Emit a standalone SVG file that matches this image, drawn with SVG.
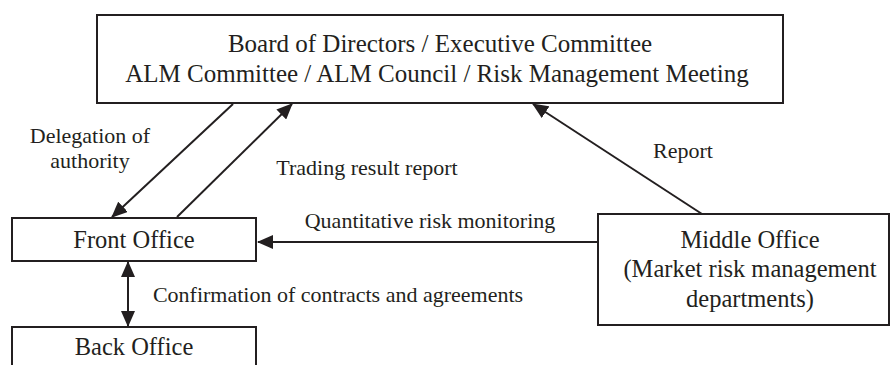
<svg xmlns="http://www.w3.org/2000/svg" width="890" height="365" viewBox="0 0 890 365">
<style>
.box{fill:#fff;stroke:#231f20;stroke-width:2}
.t{font-family:"Liberation Serif","Times New Roman",serif;fill:#231f20;text-anchor:middle}
.bt{font-size:24.5px}
.tt{font-size:25px}
.lt{font-size:22px}
.ln{stroke:#231f20;stroke-width:2;fill:none}
</style>
<defs>
<marker id="ah" markerUnits="userSpaceOnUse" markerWidth="16" markerHeight="14" refX="15" refY="7" orient="auto-start-reverse" viewBox="0 0 16 14">
<path d="M0,0 L16,7 L0,14 z" fill="#231f20"/>
</marker>
</defs>
<rect width="890" height="365" fill="#fff"/>
<g id="connectors">
<line class="ln" x1="233" y1="104" x2="112" y2="217" marker-end="url(#ah)"/>
<line class="ln" x1="177" y1="217" x2="292" y2="104" marker-end="url(#ah)"/>
<line class="ln" x1="702" y1="214" x2="533" y2="104" marker-end="url(#ah)"/>
<line class="ln" x1="598" y1="242" x2="258" y2="242" marker-end="url(#ah)"/>
<line class="ln" x1="128" y1="262" x2="128" y2="326" marker-start="url(#ah)" marker-end="url(#ah)"/>
<text class="t lt" x="90" y="143">Delegation of</text>
<text class="t lt" x="90" y="168">authority</text>
<text class="t lt" x="367" y="175">Trading result report</text>
<text class="t lt" x="683" y="158">Report</text>
<text class="t lt" x="430" y="228">Quantitative risk monitoring</text>
<text class="t lt" x="338" y="302">Confirmation of contracts and agreements</text>
</g>
<g id="board">
<rect class="box" x="97" y="15" width="686" height="88"/>
<text class="t tt" x="440" y="52">Board of Directors / Executive Committee</text>
<text class="t tt" x="437" y="82">ALM Committee / ALM Council / Risk Management Meeting</text>
</g>
<g id="front">
<rect class="box" x="12" y="218" width="244" height="43"/>
<text class="t bt" x="134" y="248">Front Office</text>
</g>
<g id="back">
<rect class="box" x="12" y="327" width="244" height="50"/>
<text class="t bt" x="134" y="355">Back Office</text>
</g>
<g id="middle">
<rect class="box" x="598" y="214" width="291" height="111"/>
<text class="t bt" x="750" y="248">Middle Office</text>
<text class="t bt" x="750" y="277">(Market risk management</text>
<text class="t bt" x="750" y="307">departments)</text>
</g>
</svg>
